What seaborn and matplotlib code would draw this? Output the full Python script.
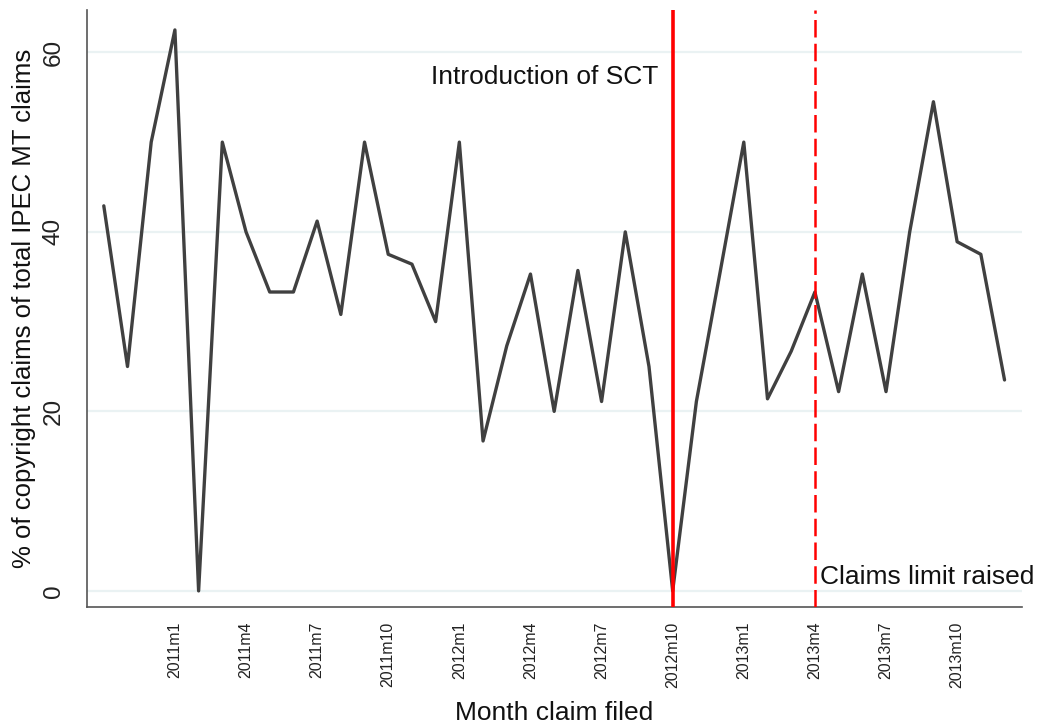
import matplotlib
matplotlib.use("Agg")
import matplotlib.pyplot as plt
from matplotlib import font_manager
import seaborn as sns
import pandas as pd

months = (["2010m10", "2010m11", "2010m12"]
          + [f"2011m{i}" for i in range(1, 13)]
          + [f"2012m{i}" for i in range(1, 13)]
          + [f"2013m{i}" for i in range(1, 13)])
share = [42.9, 25.0, 50.0,
         62.5, 0.0, 50.0, 40.0, 33.3, 33.3, 41.2, 30.8, 50.0, 37.5, 36.4, 30.0,
         50.0, 16.7, 27.3, 35.3, 20.0, 35.7, 21.1, 40.0, 25.0, 0.0, 21.1, 35.5,
         50.0, 21.4, 26.7, 33.3, 22.2, 35.3, 22.2, 40.0, 54.5, 38.9, 37.5, 23.5]
tick_labels = ["2011m1", "2011m4", "2011m7", "2011m10", "2012m1", "2012m4",
               "2012m7", "2012m10", "2013m1", "2013m4", "2013m7", "2013m10"]
y_ticks = [0, 20, 40, 60]
event_sct = "2012m10"
event_limit = "2013m4"

sns.set_theme(style="white")
plt.rcParams['font.family'] = ['Liberation Sans', 'DejaVu Sans']

names = {f.name for f in font_manager.fontManager.ttflist}
narrow = 'Liberation Sans Narrow' if 'Liberation Sans Narrow' in names else None

df = pd.DataFrame({"idx": range(len(months)), "month": months, "share": share})

fig = plt.figure(figsize=(10.44, 7.27), dpi=100)
ax = fig.add_axes([0.0833, 0.165, 0.979 - 0.0833, 0.986 - 0.165])

for v in y_ticks:
    ax.axhline(v, color="#eaf2f3", lw=1.6, zorder=0)

sns.lineplot(data=df, x="idx", y="share", ax=ax, color="#404040", lw=2.4, zorder=3)

x_sct = months.index(event_sct)
x_lim = months.index(event_limit)
ax.axvline(x_sct, color="#ff0000", lw=2.6, zorder=4)
ax.axvline(x_lim, color="#ff0000", lw=1.8, dashes=(7, 2.5), zorder=4)

ax.text(x_sct - 0.6, 57.3, "Introduction of SCT", ha="right", va="center",
        fontsize=19, color="#111111")
ax.text(x_lim + 0.2, 1.6, "Claims limit raised", ha="left", va="center",
        fontsize=19, color="#111111", clip_on=False)

ax.set_xlim(-0.71, 38.74)
ax.set_ylim(-1.8, 64.7)
ax.set_xticks([months.index(t) for t in tick_labels])
ax.set_xticklabels(tick_labels, rotation=90, fontsize=11.5, color="#222222")
ax.set_yticks(y_ticks)
ax.set_yticklabels([str(v) for v in y_ticks], rotation=90, va="center",
                   fontsize=17.5, color="#222222")

ax.tick_params(axis="x", direction="out", length=7.5, width=1, color="#555555", pad=3)
ax.tick_params(axis="y", direction="out", length=8, width=1, color="#555555", pad=8)
if narrow:
    ax.set_xlabel("Month claim filed", fontsize=22, labelpad=9, family=narrow, color="#111111")
else:
    ax.set_xlabel("Month claim filed", fontsize=19, labelpad=9, color="#111111")
ax.set_ylabel("% of copyright claims of total IPEC MT claims", fontsize=18.5,
              labelpad=5, color="#111111")

for s in ["top", "right"]:
    ax.spines[s].set_visible(False)
for s in ["left", "bottom"]:
    ax.spines[s].set_color("#555555")
    ax.spines[s].set_linewidth(1.2)

fig.savefig("out.png", dpi=100)
